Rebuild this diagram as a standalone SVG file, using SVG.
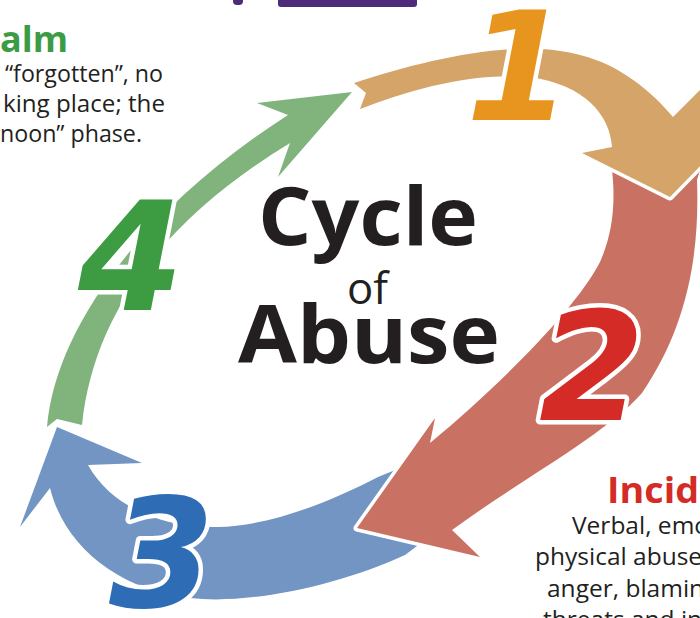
<svg xmlns="http://www.w3.org/2000/svg" width="700" height="618" viewBox="0 0 700 618">
<style>
.band{stroke:#fff;stroke-width:7;stroke-linejoin:round;paint-order:stroke}
.num{font-family:"DejaVu Sans",sans-serif;font-weight:700;font-style:oblique;font-size:152px;text-anchor:middle;stroke:#fff;stroke-width:9;stroke-linejoin:round;paint-order:stroke}
.title{font-family:"Open Sans","Noto Sans",sans-serif;font-weight:700;fill:#231f20}
.body{font-family:"Open Sans","Noto Sans",sans-serif;font-size:23px;fill:#231f20}
.body2{font-family:"Open Sans","Noto Sans",sans-serif;font-size:24.5px;fill:#231f20}
.head{font-family:"Open Sans","Noto Sans",sans-serif;font-weight:700;font-size:36px}
</style>
<rect width="700" height="618" fill="#fff"/>
<g id="top-marks">
<rect x="233" y="-6" width="10" height="11" rx="4" fill="#4d2a7c"/>
<rect x="278" y="-6" width="139" height="13" rx="3" fill="#4d2a7c"/>
</g>
<g id="connectors">
<path id="arrow-3" class="band" fill="#7395c4" d="M405,466 L425,540 L405,555 C340,585 250,605 190,598 C120,590 65,548 50,488 L20,527 L57,427 L142,463 L88,465 C110,505 160,528 217,527 C270,526 330,502 378,477 Z"/>
<path id="arrow-2" class="band" fill="#c97162" d="M612,170 L706,150 L697,180 C700,260 685,330 642,393 C605,435 520,480 452,530 L480,557 L357,528 L435,418 L430,443 C500,385 575,310 600,262 C612,235 616,205 612,170 Z"/>
<path id="arrow-1" class="band" fill="#d4a468" d="M354,83 C430,58 520,38 580,55 C620,65 650,90 673,117 L706,84 L706,160 L670,197 L582,153 L612,147 C610,115 585,85 530,77 C470,72 410,90 360,109 L366,93 Z"/>
<path id="arrow-4" class="band" fill="#80b47c" d="M47,427 C55,330 140,210 288,115 L257,103 L352,92 L278,177 L290,143 C180,210 95,300 82,425 L57,419 Z"/>
</g>
<g id="node-1"><text class="num" x="519" y="120" fill="#e8951f">1</text></g>
<g id="node-2"><text class="num" x="592" y="420" fill="#d52b26">2</text></g>
<g id="node-3"><text class="num" x="162" y="607" fill="#2e6db5">3</text></g>
<g id="node-4"><text class="num" x="131" y="310" fill="#3d9b42">4</text></g>
<g id="title">
<text class="title" x="258" y="245" font-size="80" textLength="220" lengthAdjust="spacingAndGlyphs">Cycle</text>
<text x="347" y="304" font-family="'Open Sans','Noto Sans',sans-serif" font-size="44" fill="#231f20" textLength="41" lengthAdjust="spacingAndGlyphs">of</text>
<text class="title" x="238" y="363" font-size="80" textLength="262" lengthAdjust="spacingAndGlyphs">Abuse</text>
</g>
<g id="calm-text">
<text class="head" x="68" y="52" fill="#3d9b45" text-anchor="end">alm</text>
<text class="body" x="5" y="82" textLength="158" lengthAdjust="spacingAndGlyphs">“forgotten”, no</text>
<text class="body" x="3" y="112" textLength="162" lengthAdjust="spacingAndGlyphs">king place; the</text>
<text class="body" x="0" y="142" textLength="142" lengthAdjust="spacingAndGlyphs">noon” phase.</text>
</g>
<g id="incident-text">
<text class="head" x="607" y="503" fill="#d52b26" textLength="92" lengthAdjust="spacingAndGlyphs">Incid</text>
<text class="body2" x="572" y="534">Verbal, emo</text>
<text class="body2" x="535" y="565">physical abuse</text>
<text class="body2" x="547" y="597">anger, blamin</text>
<text class="body2" x="543" y="628">threats and in</text>
</g>
</svg>
